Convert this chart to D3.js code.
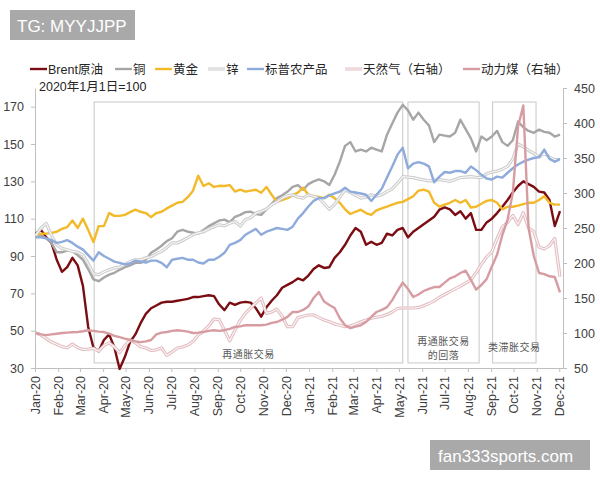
<!DOCTYPE html>
<html><head><meta charset="utf-8">
<script src="https://cdn.jsdelivr.net/npm/d3@7"></script>
<style>
body{margin:0;background:#fff}
svg{display:block}
text{font-family:"Liberation Sans","Noto Sans CJK SC",Arial,sans-serif}
</style>
</head><body>
<svg id="c" width="600" height="480"></svg>
<script>
// ---- data (weekly observations, index 2020-01-01 = 100) ----
const firstObs = "2020-01-02";
const brent = [102,104,100,97,88,81.5,84,89,85,74,
  52,41,39,45,48,41,29.5,36,44,48,
  54,59,62,63.5,65,65.5,65.5,66,66.5,67,
  68,68,68.5,69,68.5,64,61,65,63.8,65,
  65.4,65,62,57.5,62.5,66,69,73,74.5,76,
  78,77,79.5,83,85,83.6,84,89,92,96,
  101,105,103,96,97.6,96,97,102,101,104,
  105,100,103,105,107,109,111,114.8,116,115,
  112,114,110,113,104,104,108,110,113,116.4,
  120,124,127.5,130,128.5,127,124.5,124,120,106,
  114];
const copper = [100,101,99.5,97,92,92,93,92.5,90.5,88,
  83,77.5,76.5,78.5,80,81,82.6,84,85,86.3,
  86.3,88,91.7,93.5,95.5,98,99.5,103,104,103,
  102.5,102,104,106,107.5,109,109.5,108,111,112,
  113.5,113.7,112.5,112,115,118,121,122.5,124.4,127,
  128,125.5,128.5,130,131,130,128,133.5,140.5,149,
  151,146,147,146,148,147,146,155,161,166.8,
  171,168,163,166.8,163,160,151,155,154.5,154,
  156,163,158,153,146,154,152,154,157,151,
  149,152,162,159,157,156,157.7,156.5,156,154,
  155];
const gold = [101,102,102,102.4,103,104.5,105.5,109,105,110,
  104,97.5,106,106,113,111.5,111.5,112,113.5,114.8,
  113.7,113,110.8,113,113.7,115.5,117,118.5,119,121.5,
  125,133,127.5,129,127,127.6,127.5,128,124.5,125.5,
  124.5,125,125.5,123.9,127,122.8,119,120,121,122.5,
  124,126.6,122.8,122,121.7,121,122.8,121,118.5,115,
  112.5,113.7,114.8,113,112,114.5,115.5,116.4,117.5,118.5,
  119,120.5,122,125,125.5,124.5,118.5,116.5,117.5,118.5,
  120,118.5,120,116,116.4,118,119.5,120,118.5,115,
  116.4,116.4,117,117.8,118.5,118.5,120,122,118.5,117.5,
  117.5];
const zinc = [101,105,107.5,101,96,94,93.4,92.5,92,90.5,
  86,80.5,80,81.5,82.6,83.6,84,85.5,87,88,
  88,89,89.6,91.2,92.5,94.5,97,97,98.3,99.8,
  101.4,102.4,103,104.5,105.7,106.7,106.2,107.5,108.5,106,
  109.5,110.5,113,114,115.2,117.5,119,121,122.2,122.8,
  121.5,121,122.8,122,121,118,115,117.5,121.5,125.5,
  124,122.5,121,121.5,122.8,122,122.8,124.5,126,129,
  132.5,132.3,132,131.3,130.8,130.2,130.5,131,130.5,130,
  131,132,132.3,132.5,132.2,132,134,135,135.5,136.5,
  138,142,150,148.5,146.5,145,143,145,143,141.6,
  141.6];
const agri = [100,100,99.5,98.5,97,97.6,98.5,97,95,93.4,
  90.5,87.5,92,90,88.5,87,86.3,85.5,86,87.5,
  87,86.5,87.5,87.5,86.3,84,88,88.5,89,88,
  88,86.5,86,88,88,89.6,91.7,96,97,98.5,
  101.4,103,104.5,101.4,103,104,105,104.5,104,105.7,
  110,113,116.5,119.5,121,121,122.5,123.5,124.5,126.6,
  124.5,124,123.5,122.8,119.5,122.8,126,132,138,144.3,
  148,137,139.5,140.3,139.5,138,129.5,132.5,135,134.6,
  135.5,135.5,134.6,138,136,133.5,131.5,131,132.5,132,
  134.6,137,139,140.5,141.6,142.5,143,147,142,140.5,
  142];
const natgas = [100,97,92,87,84,80.5,79,84,79,76.5,
  77,78,74,82,86,80,72,82,90,86,
  80.5,78.6,75,76,78.6,68,73,78.6,80,82.8,
  88,97,103,110,120,119,104,89,104,118,
  128,136,143,150,128,130,134,124,109,109,
  122,124,125.7,125.7,122,118.6,116,113,111,109,
  110,113,116,118.6,121,122.5,124,126.5,130,135,
  135.7,135.7,135.7,136.5,139,142,146,151,155,159,
  163,167,171.4,176,186,198,208.6,216,235,251.4,
  258,268,255,272,250,245,223,220,225,235,
  180];
const coal = [100,98,97,98,99,100,100.5,101,101.4,102.5,
  104,103,102,101.4,99,96,94,92,90,88,
  87,88,90,98,100.5,101.4,103,104,103,102,
  100,100.5,101.4,103,104,103,104,106,108.6,109.5,
  111,111,111,111,112,114.5,115.7,119,123,130,
  130,133,138,150,158.6,145,140,135.7,121,111,
  107,109,111,115.7,123,130,133,137,147,160,
  172,163,151.4,155,160,163,165.7,165.7,172,178,
  181,185.7,189,176,162,168.6,177,195,212,240,
  262,300,395,425,250,210,185.7,184,181,180,
  158];
const seriesNames = ["Brent原油","铜","黄金","锌","标普农产品","天然气（右轴）","动力煤（右轴）"];
const leftTicks = [30,50,70,90,110,130,150,170];
const rightTicks = [50,100,150,200,250,300,350,400,450];
const phaseLabels = [["再通胀交易"],["再通胀交易","的回落"],["类滞胀交易"]];
const phaseStart = ["2020-03-20","2021-05-13","2021-09-03"];
const phaseEnd = ["2021-05-06","2021-08-16","2021-10-31"];
const baseNote = "2020年1月1日=100";
const wmTop = "TG: MYYJJPP";
const wmBottom = "fan333sports.com";

// ---- layout ----
const svg = d3.select("#c");
const P = {l:35, r:563, t:88, b:368};
const parse = d3.timeParse("%Y-%m-%d");
const dates = brent.map((_, i) => d3.timeDay.offset(parse(firstObs), i * 7));
const x = d3.scaleTime().domain([parse("2020-01-01"), parse("2021-12-06")]).range([P.l, P.r]);
const yL = d3.scaleLinear().domain([30, 180]).range([P.b, P.t]);
const yR = d3.scaleLinear().domain([50, 450]).range([P.b, P.t]);
const axisColor = "#bfbfbf", textColor = "#404040";

// watermarks
svg.append("rect").attr("x",10).attr("y",10).attr("width",125).attr("height",30).attr("fill","#a9a9a9");
svg.append("text").attr("x",17).attr("y",31.5).attr("fill","#fff").attr("font-size",17).text(wmTop);
svg.append("rect").attr("x",430).attr("y",440).attr("width",160).attr("height",30).attr("fill","#a9a9a9");
svg.append("text").attr("x",438).attr("y",461.5).attr("fill","#fff").attr("font-size",17).text(wmBottom);

// phase boxes
const boxTop = 172.5, boxBottom = 32.7;
phaseStart.forEach((s, i) => {
  const x0 = x(parse(s)), x1 = x(parse(phaseEnd[i]));
  svg.append("rect").attr("x", x0).attr("y", yL(boxTop))
    .attr("width", x1 - x0).attr("height", yL(boxBottom) - yL(boxTop))
    .attr("fill","none").attr("stroke","#c8c8c8").attr("stroke-width",1);
});

// axes
const gx = svg.append("g").attr("transform",`translate(0,${P.b})`)
  .call(d3.axisBottom(x).tickValues(d3.timeMonth.range(parse("2020-01-01"), parse("2021-12-02")))
    .tickFormat(d3.timeFormat("%b-%y")).tickSize(4).tickSizeOuter(0));
gx.selectAll("text").attr("transform","rotate(-90)").attr("x",-8).attr("y",0).attr("dy","0.33em")
  .style("text-anchor","end");
const gl = svg.append("g").attr("transform",`translate(${P.l},0)`)
  .call(d3.axisLeft(yL).tickValues(leftTicks).tickSize(4).tickPadding(7).tickSizeOuter(0));
const gr = svg.append("g").attr("transform",`translate(${P.r},0)`)
  .call(d3.axisRight(yR).tickValues(rightTicks).tickSize(4).tickPadding(7).tickSizeOuter(0));
[gx, gl, gr].forEach(g => {
  g.select(".domain").attr("stroke", axisColor);
  g.selectAll(".tick line").attr("stroke", axisColor);
  g.selectAll("text").attr("fill", textColor).attr("font-size", 12.5)
    .style("font-family", '"Liberation Sans", Arial, sans-serif');
});

// series
const styles = [
  {data: brent, y: yL, color: "#7b0d12", w: 2.4},
  {data: copper, y: yL, color: "#a6a6a6", w: 2.4},
  {data: gold, y: yL, color: "#f2b929", w: 2.4},
  {data: zinc, y: yL, color: "#cbcbcb", w: 3.2, inner: "#f6f6f6"},
  {data: agri, y: yL, color: "#8eabdb", w: 2.4},
  {data: natgas, y: yR, color: "#e0bcc0", w: 3.2, inner: "#fcf3f4"},
  {data: coal, y: yR, color: "#d79ca1", w: 2.4}
];
styles.forEach(s => {
  const line = d3.line().x((d, i) => x(dates[i])).y(d => s.y(d)).curve(d3.curveLinear);
  svg.append("path").datum(s.data).attr("d", line).attr("fill","none")
    .attr("stroke", s.color).attr("stroke-width", s.w).attr("stroke-linejoin","round");
  if (s.inner) svg.append("path").datum(s.data).attr("d", line).attr("fill","none")
    .attr("stroke", s.inner).attr("stroke-width", 1.2).attr("stroke-linejoin","round");
});

// phase labels
const labelY = [[357.5],[344.5,358.5],[351]];
phaseLabels.forEach((lines, i) => {
  const cx = (x(parse(phaseStart[i])) + x(parse(phaseEnd[i]))) / 2;
  lines.forEach((t, j) => {
    svg.append("text").attr("x", cx).attr("y", labelY[i][j]).attr("text-anchor","middle")
      .attr("font-size", 10).attr("fill", "#595959").attr("letter-spacing", 0.5).text(t);
  });
});

// legend
const legX = [30, 115, 155, 208, 247, 345, 463];
const legY = 69;
seriesNames.forEach((n, i) => {
  const s = styles[i];
  svg.append("line").attr("x1", legX[i]).attr("x2", legX[i] + 17).attr("y1", legY).attr("y2", legY)
    .attr("stroke", s.color).attr("stroke-width", s.inner ? 3 : 2.4);
  if (s.inner) svg.append("line").attr("x1", legX[i]).attr("x2", legX[i] + 17).attr("y1", legY).attr("y2", legY)
    .attr("stroke", s.inner).attr("stroke-width", 1.1);
  svg.append("text").attr("x", legX[i] + 18).attr("y", legY + 4.5).attr("font-size", 12.5)
    .attr("fill", "#262626").text(n);
});
svg.append("text").attr("x", 39).attr("y", 90.5).attr("font-size", 12.5).attr("fill", "#262626").text(baseNote);
</script>
</body></html>
